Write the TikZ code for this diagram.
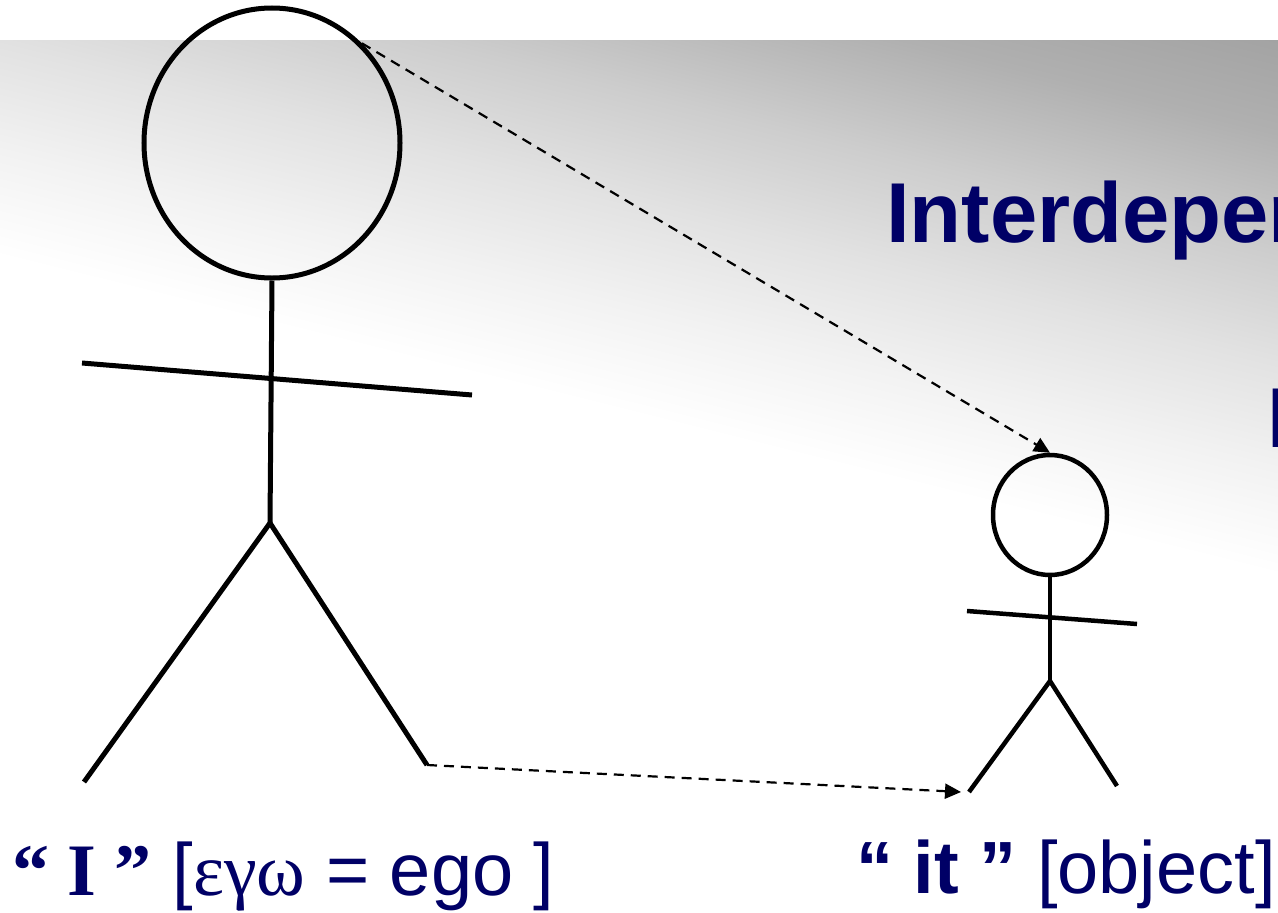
\documentclass[tikz,border=0pt]{standalone}
\usepackage{fontspec}
\setmainfont{Liberation Sans}
\newfontfamily\timesfont{Liberation Serif}
\usetikzlibrary{arrows.meta,shapes.geometric}
\definecolor{Navy}{RGB}{0,0,102}
\definecolor{bgA}{gray}{0.639}
\definecolor{bgB}{gray}{0.690}
\definecolor{bgC}{gray}{0.804}
\definecolor{bgD}{gray}{0.886}
\definecolor{bgE}{gray}{0.949}
\definecolor{bgF}{gray}{0.973}
\pgfdeclareverticalshading{slidebg}{1500bp}{color(0bp)=(white); color(680bp)=(white);
  color(736bp)=(bgF); color(783bp)=(bgE); color(886bp)=(bgD); color(993bp)=(bgC);
  color(1109bp)=(bgB); color(1200bp)=(bgA)}
\tikzset{
  head/.style={ellipse,draw=black,line width=5bp,inner sep=0pt},
  limb/.style={draw=black,line width=5bp},
  thinlimb/.style={draw=black,line width=4.5bp},
  look/.style={dashed,dash pattern=on 10bp off 7bp,line width=2.2bp,
               -{Triangle[length=16bp,width=15bp]}},
  lbl/.style={text=Navy,inner sep=0pt,font=\fontsize{74bp}{80bp}\selectfont},
  title/.style={text=Navy,inner sep=0pt,font=\fontsize{85bp}{95bp}\selectfont\bfseries},
}

\begin{document}
\begin{tikzpicture}[x=1bp,y=-1bp]
  \useasboundingbox (0,0) rectangle (1278,913);
  \clip (0,0) rectangle (1278,913);
  \fill[white] (0,0) rectangle (1278,913);
  \begin{scope}
    \clip (0,40) rectangle (1278,913);
    \node[inner sep=0pt,rotate=-14] (bgfill) at (633,497) {\pgfuseshading{slidebg}};
  \end{scope}

  \node[title,anchor=base west] (heading) at (886,242) {Interdepen};
  \node[title,anchor=base west] (headingtwo) at (1267,447) {I};

  % the "I"
  \node[head,minimum width=256bp,minimum height=270bp] (bighead) at (272,143) {};
  \coordinate (bighip) at (270,523);
  \coordinate (bigarmL) at (82,363);
  \coordinate (bigarmR) at (472,395);
  \coordinate (bigfootL) at (84,782);
  \coordinate (bigfootR) at (427,765);
  \draw[limb] (bighead.south) -- (bighip);
  \draw[limb] (bigarmL) -- (bigarmR);
  \draw[limb] (bigfootL) -- (bighip) -- (bigfootR);

  % the "it"
  \node[head,line width=4.5bp,minimum width=114bp,minimum height=120bp] (smallhead) at (1050,515) {};
  \coordinate (smallhip) at (1050,681);
  \coordinate (smallarmL) at (967,611);
  \coordinate (smallarmR) at (1137,624);
  \coordinate (smallfootL) at (969,792);
  \coordinate (smallfootR) at (1117,786);
  \draw[thinlimb] (smallhead.south) -- (smallhip);
  \draw[thinlimb] (smallarmL) -- (smallarmR);
  \draw[thinlimb] (smallfootL) -- (smallhip) -- (smallfootR);

  \coordinate (itmark) at (961,792);
  \draw[look] (bighead.48) -- (smallhead.north);
  \draw[look] (bigfootR) -- (itmark);

  \node[lbl,anchor=base west] (egolabel) at (12,895)
    {{\timesfont\bfseries “ I ”} [{\timesfont εγω} = ego ]};
  \node[lbl,anchor=base west] (itlabel) at (856,893) {\bfseries “ it ” \mdseries[object]};
\end{tikzpicture}
\end{document}
